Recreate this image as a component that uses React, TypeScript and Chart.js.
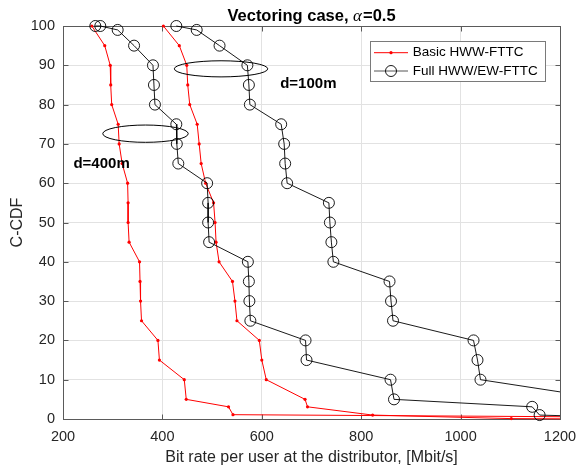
import React, { useEffect, useRef } from "react";
import { Chart, registerables } from "chart.js";

Chart.register(...registerables);

// ---- Data ----
const basic400X = [258, 284, 295, 296, 298, 311, 313, 319, 330, 331, 331, 333, 354, 355, 356, 358, 391, 394, 444, 448, 533, 542, 1300];
const basic400Y = [100, 95, 90, 85, 80, 75, 70, 65, 60, 55, 50, 45, 40, 35, 30, 25, 20, 15, 10, 5, 3.1, 1.1, 0.5];

const basic100X = [402, 434, 449, 451, 455, 470, 474, 478, 487, 503, 506, 508, 514, 541, 546, 550, 595, 600, 609, 687, 692, 823, 1102, 1300];
const basic100Y = [100, 95, 90, 85, 80, 75, 70, 65, 60, 55, 50, 45, 40, 35, 30, 25, 20, 15, 10, 5, 3.1, 1.0, 0.1, 0];

const full400X = [265, 275, 310, 343, 381, 383, 385, 428, 429, 432, 490, 492, 492, 494, 572, 574, 575, 577, 688, 690, 859, 866, 1144, 1159, 1300];
const full400Y = [100, 100, 99, 95, 90, 85, 80, 75, 70, 65, 60, 55, 50, 45, 40, 35, 30, 25, 20, 15, 10, 5, 3.1, 1.0, 0.5];

const full100X = [428, 469, 515, 571, 574, 576, 639, 645, 647, 651, 735, 737, 740, 744, 857, 860, 864, 1026, 1034, 1040, 1298];
const full100Y = [100, 99, 95, 90, 85, 80, 75, 70, 65, 60, 55, 50, 45, 40, 35, 30, 25, 20, 15, 10, 5];

const seriesLabels = ["Basic HWW-FTTC", "Full HWW/EW-FTTC"];

// annotations (data units)
const ellipseCenterX = [518, 366];
const ellipseCenterY = [89.1, 72.6];
const ellipseRadiusX = [94, 86];
const ellipseRadiusY = [2.05, 2.2];
const noteTexts = ["d=100m", "d=400m"];
const noteX = [637, 221];
const noteY = [85.3, 64.8];

const titleParts = ["Vectoring case, ", "\u03B1", "=0.5"];
const xTitle = "Bit rate per user at the distributor, [Mbit/s]";
const yTitle = "C-CDF";

// ---- Styles ----
const FONT = "'Liberation Sans', Arial, Helvetica, sans-serif";
const AXIS = "#5a5a5a";
const GRID = "#e2e2e2";
const TEXT = "#262626";
const RED = "#ff0000";

const toPts = (xs: number[], ys: number[]) => xs.map((x, i) => ({ x, y: ys[i] }));

const clip = { left: 0, top: 8, right: 0, bottom: 8 };

const redStyle = {
  showLine: true,
  borderColor: RED,
  borderWidth: 1,
  pointRadius: 1.6,
  pointBorderWidth: 0,
  pointBackgroundColor: RED,
  pointBorderColor: RED,
  clip,
};
const blackStyle = {
  showLine: true,
  borderColor: "#000",
  borderWidth: 0.9,
  pointRadius: 5.5,
  pointBorderWidth: 0.9,
  pointBackgroundColor: "rgba(0,0,0,0)",
  pointBorderColor: "#000",
  clip,
};

const overlay = {
  id: "overlay",
  beforeDatasetsDraw(chart: any) {
    const { ctx, chartArea: a, scales } = chart;
    const x = scales.x, y = scales.y;
    ctx.save();
    ctx.strokeStyle = AXIS;
    ctx.lineWidth = 1;
    const L = Math.round(a.left) + 0.5, R = Math.round(a.right) + 0.5;
    const T = Math.round(a.top) + 0.5, B = Math.round(a.bottom) + 0.5;
    ctx.strokeRect(L, T, R - L, B - T);
    const tl = 5;
    ctx.beginPath();
    x.ticks.forEach((t: any) => {
      const px = Math.round(x.getPixelForValue(t.value)) + 0.5;
      ctx.moveTo(px, B); ctx.lineTo(px, B - tl);
      ctx.moveTo(px, T); ctx.lineTo(px, T + tl);
    });
    y.ticks.forEach((t: any) => {
      const py = Math.round(y.getPixelForValue(t.value)) + 0.5;
      ctx.moveTo(L, py); ctx.lineTo(L + tl, py);
      ctx.moveTo(R, py); ctx.lineTo(R - tl, py);
    });
    ctx.stroke();
    ctx.restore();
  },
  afterDatasetsDraw(chart: any) {
    const { ctx, scales } = chart;
    const x = scales.x, y = scales.y;
    ctx.save();
    ctx.strokeStyle = "#000";
    ctx.lineWidth = 1;
    for (let i = 0; i < ellipseCenterX.length; i++) {
      const cx = x.getPixelForValue(ellipseCenterX[i]);
      const cy = y.getPixelForValue(ellipseCenterY[i]);
      const rx = Math.abs(x.getPixelForValue(ellipseCenterX[i] + ellipseRadiusX[i]) - cx);
      const ry = Math.abs(y.getPixelForValue(ellipseCenterY[i] + ellipseRadiusY[i]) - cy);
      ctx.beginPath();
      ctx.ellipse(cx, cy, rx, ry, 0, 0, Math.PI * 2);
      ctx.stroke();
    }
    ctx.fillStyle = "#000";
    ctx.font = `bold 15px ${FONT}`;
    ctx.textAlign = "left";
    ctx.textBaseline = "middle";
    for (let i = 0; i < noteTexts.length; i++) {
      ctx.fillText(noteTexts[i], x.getPixelForValue(noteX[i]), y.getPixelForValue(noteY[i]));
    }
    ctx.restore();
  },
  afterDraw(chart: any) {
    const { ctx, chartArea: a } = chart;
    ctx.save();
    // title
    const f1 = `bold 16.5px ${FONT}`;
    const f2 = `italic 17px 'Liberation Serif', 'DejaVu Serif', serif`;
    ctx.font = f1;
    const w0 = ctx.measureText(titleParts[0]).width;
    const w2 = ctx.measureText(titleParts[2]).width;
    ctx.font = f2;
    const w1 = ctx.measureText(titleParts[1]).width + 1;
    const total = w0 + w1 + w2;
    let tx = (a.left + a.right) / 2 - total / 2;
    const ty = 21;
    ctx.fillStyle = "#000";
    ctx.textBaseline = "alphabetic";
    ctx.textAlign = "left";
    ctx.font = f1; ctx.fillText(titleParts[0], tx, ty); tx += w0;
    ctx.font = f2; ctx.fillText(titleParts[1], tx, ty); tx += w1;
    ctx.font = f1; ctx.fillText(titleParts[2], tx, ty);

    // axis titles
    ctx.fillStyle = TEXT;
    ctx.font = `16px ${FONT}`;
    ctx.textAlign = "center";
    ctx.textBaseline = "middle";
    ctx.fillText(xTitle, (a.left + a.right) / 2, 457.5);
    ctx.save();
    ctx.translate(17.5, (a.top + a.bottom) / 2);
    ctx.rotate(-Math.PI / 2);
    ctx.fillText(yTitle, 0, 0);
    ctx.restore();

    // legend
    const bx = 370.5, by = 41.5, bw = 175, bh = 40;
    ctx.fillStyle = "#fff";
    ctx.fillRect(bx, by, bw, bh);
    ctx.strokeStyle = "#7a7a7a";
    ctx.lineWidth = 1;
    ctx.strokeRect(bx, by, bw, bh);
    const rows = [52.7, 71];
    ctx.font = `13.5px ${FONT}`;
    ctx.textAlign = "left";
    ctx.textBaseline = "middle";
    rows.forEach((ry, i) => {
      const x0 = 374, x1 = 408, mx = (x0 + x1) / 2;
      ctx.beginPath();
      ctx.moveTo(x0, ry); ctx.lineTo(x1, ry);
      ctx.strokeStyle = i === 0 ? RED : "#555";
      ctx.lineWidth = 1;
      ctx.stroke();
      if (i === 0) {
        ctx.fillStyle = RED;
        ctx.beginPath(); ctx.arc(mx, ry, 1.6, 0, Math.PI * 2); ctx.fill();
      } else {
        ctx.strokeStyle = "#000";
        ctx.lineWidth = 0.9;
        ctx.beginPath(); ctx.arc(mx, ry, 5.5, 0, Math.PI * 2); ctx.stroke();
      }
      ctx.fillStyle = "#000";
      ctx.fillText(seriesLabels[i], 412.7, ry);
    });
    ctx.restore();
  },
};

export default function App() {
  const ref = useRef<HTMLCanvasElement>(null);
  useEffect(() => {
    const canvas = ref.current!;
    const tickFont = { family: FONT, size: 14.5 };
    const plain = (v: any) => String(v);
    const chart = new Chart(canvas, {
      type: "scatter",
      data: {
        datasets: [
          { label: seriesLabels[1], data: toPts(full400X, full400Y), ...blackStyle },
          { label: seriesLabels[1], data: toPts(full100X, full100Y), ...blackStyle },
          { label: seriesLabels[0], data: toPts(basic400X, basic400Y), ...redStyle },
          { label: seriesLabels[0], data: toPts(basic100X, basic100Y), ...redStyle },
        ] as any,
      },
      options: {
        responsive: false,
        animation: false,
        devicePixelRatio: 1,
        layout: { padding: { top: 26, right: 17, left: 0, bottom: 0 } },
        plugins: {
          legend: { display: false },
          tooltip: { enabled: false },
          title: { display: false },
        },
        scales: {
          x: {
            type: "linear",
            min: 200,
            max: 1200,
            ticks: { stepSize: 200, padding: 9, font: tickFont, color: TEXT, maxRotation: 0, callback: plain },
            grid: { color: GRID, drawTicks: false },
            border: { display: false },
            afterFit: (s: any) => { s.height = 51; s.paddingLeft = 0; s.paddingRight = 0; },
          },
          y: {
            type: "linear",
            min: 0,
            max: 100,
            ticks: { stepSize: 10, padding: 8, font: tickFont, color: TEXT, callback: plain },
            grid: { color: GRID, drawTicks: false },
            border: { display: false },
            afterFit: (s: any) => { s.width = 63; s.paddingTop = 0; s.paddingBottom = 0; },
          },
        },
      } as any,
      plugins: [overlay],
    });
    return () => chart.destroy();
  }, []);
  return (
    <div style={{ position: "fixed", left: 0, top: 0, width: 577, height: 470, background: "#fff" }}>
      <canvas ref={ref} width={577} height={470} style={{ display: "block", width: 577, height: 470 }} />
    </div>
  );
}
